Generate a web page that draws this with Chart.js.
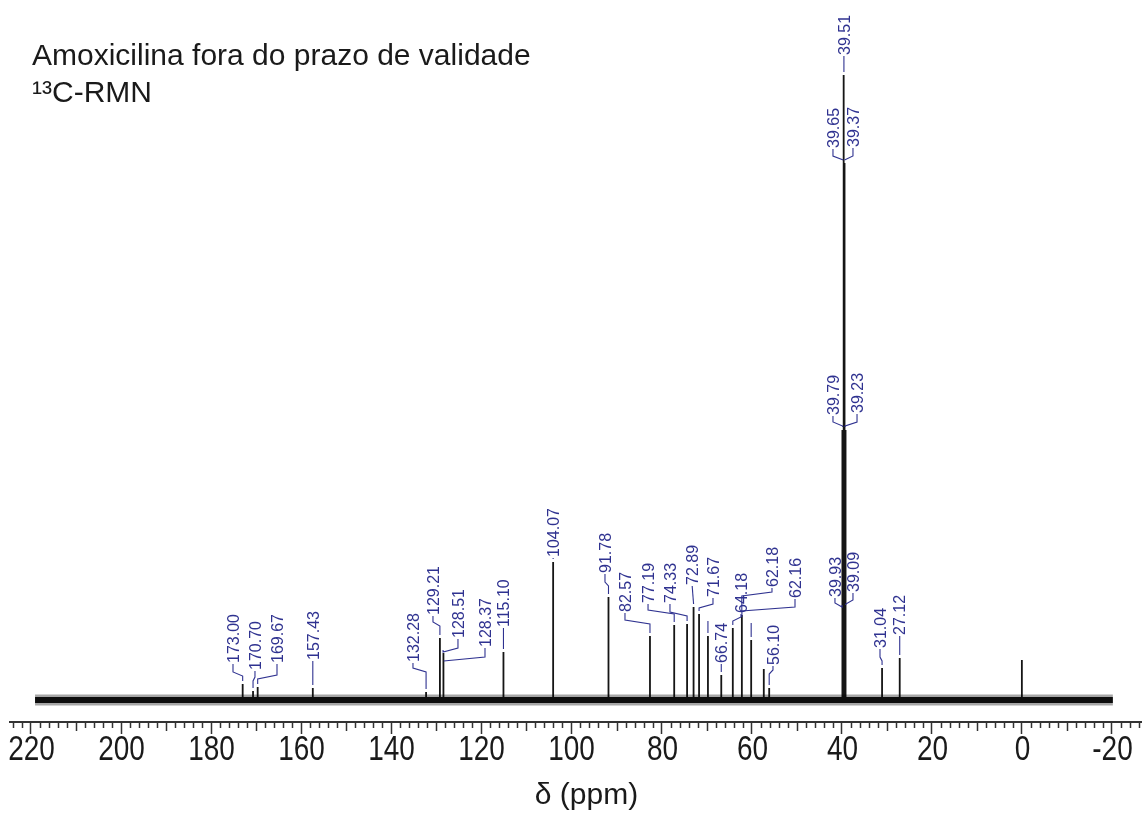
<!DOCTYPE html>
<html>
<head>
<meta charset="utf-8">
<script src="https://cdn.jsdelivr.net/npm/chart.js@4/dist/chart.umd.min.js"></script>
<style>
  html, body { margin: 0; padding: 0; background: #fff; }
  #wrap { width: 1142px; height: 813px; position: relative; }
</style>
</head>
<body>
<div id="wrap"><canvas id="nmrChart"></canvas></div>
<script>
// 13C spectrum, peaks (height in px above the baseline)
const titleLines = ['Amoxicilina fora do prazo de validade', '\u00B9\u00B3C-RMN']
const axisTitle = '\u03B4 (ppm)'
const ppmMin = -26.45
const ppmMax = 224.66
const noiseFrom = 219.1
const noiseTo = -20.2

const peakPpm = [173.00, 170.70, 169.67, 157.43, 132.28, 129.21, 128.51, 128.37, 115.10, 104.07,
  91.78, 82.57, 77.19, 74.33, 72.89, 71.67, 69.70, 66.74, 64.18, 62.18, 62.16, 60.10, 57.30, 56.10,
  39.93, 39.79, 39.65, 39.51, 39.37, 39.23, 39.09, 31.04, 27.12, 0.00]
const peakHeight = [16, 9, 13, 12, 8, 62, 47, 36, 48, 138,
  103, 64, 75, 76, 93, 86, 64, 25, 72, 85, 80, 60, 31, 12,
  92, 270, 537, 625, 537, 270, 92, 32, 42, 40]

// peak labels: text, peak they point to
const labelText = ['173.00', '170.70', '169.67', '157.43', '132.28', '129.21', '128.51', '128.37', '115.10', '104.07',
  '91.78', '82.57', '77.19', '74.33', '72.89', '71.67', '', '66.74', '64.18', '62.18', '62.16', '', '56.10',
  '39.93', '39.79', '39.65', '39.51', '39.37', '39.23', '39.09', '31.04', '27.12']
const labelPeak = [173.00, 170.70, 169.67, 157.43, 132.28, 129.21, 128.51, 128.37, 115.10, 104.07,
  91.78, 82.57, 77.19, 74.33, 72.89, 71.67, 69.70, 66.74, 64.18, 62.18, 62.16, 60.10, 56.10,
  39.93, 39.79, 39.65, 39.51, 39.37, 39.23, 39.09, 31.04, 27.12]
// where each label sits: [ppm of text, level of text foot, level of elbow]
const labelSpot = [
  [175.15, 37, 28], [170.27, 30, 23], [165.38, 37, 25], [157.43, 40, 40], [135.19, 38, 32],
  [130.75, 85, 78], [125.2, 62, 52], [119.2, 53, 43], [115.10, 73, 73], [104.07, 143, 143],
  [92.56, 127, 118], [88.12, 88, 80], [83.0, 97, 90], [78.13, 97, 88], [73.2, 115, 106],
  [68.58, 103, 96], [69.70, 80, 80], [66.74, 37, 37], [62.36, 87, 83], [55.48, 113, 108],
  [50.37, 102, 93], [60.10, 78, 78], [55.26, 35, 30],
  [41.5, 103, 97], [41.94, 285, 278], [41.94, 552, 544], [39.51, 645, 645], [37.5, 553, 544],
  [36.6, 287, 278], [37.5, 108, 100], [31.5, 52, 43], [27.12, 65, 65]
]

const labelColor = '#2f3290'
const inkColor = '#151515'
const textColor = '#1a1a1a'

function stickData() {
  let pts = []
  peakPpm.forEach((p, i) => {
    pts.push({x: p, y: 0})
    pts.push({x: p, y: peakHeight[i]})
    pts.push({x: p, y: 0})
  })
  return pts
}

function heightOf(ppm) {
  let i = peakPpm.indexOf(ppm)
  return i >= 0 ? peakHeight[i] : 0
}

const nmrDecor = {
  id: 'nmrDecor',
  afterDraw(chart) {
    const ctx = chart.ctx
    const xs = chart.scales.x
    const ys = chart.scales.y
    const bottom = chart.chartArea.bottom

    // minor / medium ticks, and the tick numbers (narrow face, like the original)
    ctx.save()
    ctx.strokeStyle = '#333'
    ctx.lineWidth = 1.5
    ctx.fillStyle = textColor
    ctx.font = '35px "Liberation Sans", Arial, sans-serif'
    ctx.textAlign = 'center'
    ctx.textBaseline = 'alphabetic'
    xs.ticks.forEach(t => {
      const px = Math.round(xs.getPixelForValue(t.value)) + 0.5
      if (t.value % 20 === 0) {
        ctx.save()
        ctx.translate(px, 760)
        ctx.scale(0.8, 1)
        ctx.fillText(String(t.value), 0, 0)
        ctx.restore()
        return
      }
      const len = t.value % 10 === 0 ? 9 : 6
      ctx.beginPath()
      ctx.moveTo(px, bottom)
      ctx.lineTo(px, bottom + len)
      ctx.stroke()
    })
    ctx.font = '30px "Liberation Sans", Arial, sans-serif'
    ctx.fillText(axisTitle, (xs.left + xs.right) / 2 + 11, 804)
    ctx.restore()

    // peak labels with their leaders
    ctx.save()
    ctx.strokeStyle = labelColor
    ctx.fillStyle = labelColor
    ctx.lineWidth = 1.1
    ctx.font = '16px "Liberation Sans", Arial, sans-serif'
    labelText.forEach((txt, i) => {
      const spot = labelSpot[i]
      const tx = xs.getPixelForValue(spot[0])
      const tb = ys.getPixelForValue(spot[1])
      const ey = ys.getPixelForValue(spot[2])
      const px = xs.getPixelForValue(labelPeak[i])
      const top = ys.getPixelForValue(heightOf(labelPeak[i])) - 3
      ctx.beginPath()
      ctx.moveTo(tx, tb + 1)
      if (Math.abs(tx - px) < 1.5) {
        ctx.lineTo(px, top)
      } else {
        ctx.lineTo(tx, ey)
        ctx.lineTo(px, ey + 4)
        ctx.lineTo(px, top)
      }
      ctx.stroke()
      if (txt) {
        ctx.save()
        ctx.translate(tx, tb)
        ctx.rotate(-Math.PI / 2)
        ctx.textAlign = 'left'
        ctx.textBaseline = 'alphabetic'
        ctx.fillText(txt, 0, 5.7)
        ctx.restore()
      }
    })
    ctx.restore()

    // title block
    ctx.save()
    ctx.fillStyle = textColor
    ctx.font = '30px "Liberation Sans", Arial, sans-serif'
    ctx.textAlign = 'left'
    ctx.textBaseline = 'alphabetic'
    ctx.fillText(titleLines[0], 32, 65)
    ctx.fillText(titleLines[1], 32, 102)
    ctx.restore()
  }
}

const ctx = document.getElementById('nmrChart').getContext('2d')
const nmrChart = new Chart(ctx, {
  type: 'scatter',
  data: {
    datasets: [
      {
        label: 'noise halo',
        data: [{x: noiseFrom, y: 0}, {x: noiseTo, y: 0}],
        showLine: true,
        borderColor: 'rgba(0,0,0,0.35)',
        borderWidth: 11,
        pointRadius: 0
      },
      {
        label: 'noise',
        data: [{x: noiseFrom, y: 0}, {x: noiseTo, y: 0}],
        showLine: true,
        borderColor: inkColor,
        borderWidth: 6,
        pointRadius: 0
      },
      {
        label: 'spectrum',
        data: stickData(),
        showLine: true,
        borderColor: inkColor,
        borderWidth: 1.8,
        pointRadius: 0
      }
    ]
  },
  options: {
    responsive: true,
    maintainAspectRatio: false,
    animation: false,
    layout: { padding: { left: 10, right: 1, top: 0, bottom: 0 } },
    plugins: {
      legend: { display: false },
      tooltip: { enabled: false }
    },
    scales: {
      x: {
        type: 'linear',
        reverse: true,
        min: ppmMin,
        max: ppmMax,
        afterFit: s => { s.height = 91 },
        afterBuildTicks: s => {
          s.ticks = s.ticks.filter(t => Math.abs(t.value / 2 - Math.round(t.value / 2)) < 1e-6)
        },
        ticks: {
          display: false,
          stepSize: 2,
          includeBounds: false,
          autoSkip: false
        },
        grid: {
          drawOnChartArea: false,
          tickLength: 12,
          tickWidth: 1.5,
          tickColor: c => (c.tick && c.tick.value % 20 === 0 ? '#333' : 'rgba(0,0,0,0)')
        },
        border: { display: true, color: '#333', width: 2 },
        title: { display: false }
      },
      y: {
        display: false,
        min: -22,
        max: 700
      }
    }
  },
  plugins: [nmrDecor]
})
</script>
</body>
</html>
